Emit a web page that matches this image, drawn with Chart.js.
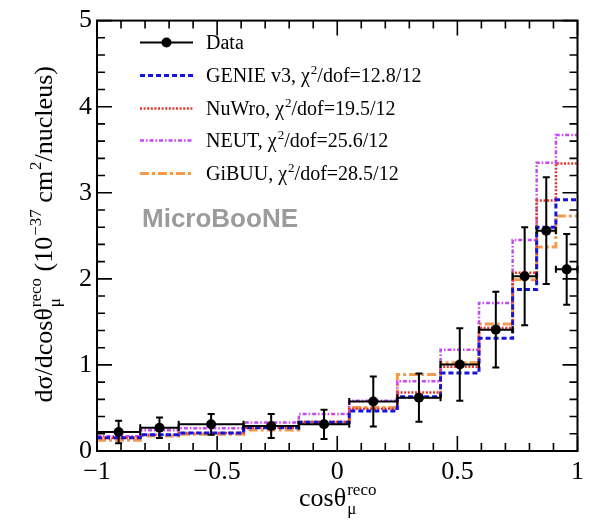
<!DOCTYPE html>
<html><head><meta charset="utf-8">
<style>html,body{margin:0;padding:0;background:#fff}</style>
<script src="https://cdn.jsdelivr.net/npm/chart.js@4.4.1/dist/chart.umd.min.js"></script>
</head><body>
<canvas id="c" width="590" height="527"></canvas>
<script>
// ---------------- data ----------------
const binEdges    = [-1, -0.82, -0.66, -0.39, -0.16, 0.05, 0.25, 0.43, 0.59, 0.73, 0.83, 0.91, 1];
const dataValues  = [0.22, 0.27, 0.31, 0.29, 0.31, 0.575, 0.62, 1.005, 1.41, 2.03, 2.56, 2.11];
const dataErrors  = [0.13, 0.12, 0.12, 0.14, 0.17, 0.29, 0.28, 0.42, 0.44, 0.57, 0.62, 0.41];
const genieValues = [0.155, 0.19, 0.21, 0.27, 0.335, 0.465, 0.63, 0.905, 1.31, 1.875, 2.60, 2.92];
const nuwroValues = [0.15, 0.19, 0.21, 0.27, 0.34, 0.49, 0.68, 0.98, 1.43, 2.07, 2.91, 3.34];
const neutValues  = [0.17, 0.24, 0.265, 0.33, 0.43, 0.585, 0.81, 1.175, 1.72, 2.45, 3.35, 3.67];
const gibuuValues = [0.125, 0.175, 0.195, 0.245, 0.33, 0.505, 0.89, 1.025, 1.475, 1.99, 2.37, 2.73];
const modelNames  = ['GENIE v3', 'NuWro', 'NEUT', 'GiBUU'];
const modelChi2   = ['12.8', '19.5', '25.6', '28.5'];
const ndof        = '12';
const xTickValues = [-1, -0.5, 0, 0.5, 1];
const xTickLabels = ['\u22121', '\u22120.5', '0', '0.5', '1'];
const yTickValues = [0, 1, 2, 3, 4, 5];
const yTickLabels = ['0', '1', '2', '3', '4', '5'];

// ---------------- styles ----------------
const SERIF = '"Liberation Serif", "Times New Roman", serif';
const modelStyles = [
  {color: '#1414dc', dash: [5, 3], width: 3},
  {color: '#e0362e', dash: [2, 1.6], width: 2.5},
  {color: '#c847f5', dash: [4, 2, 1.5, 2], width: 2.5},
  {color: '#f29b4e', dash: [9, 3, 3, 3], width: 3}
];
const modelValues = [genieValues, nuwroValues, neutValues, gibuuValues];

function stepPoints(vals) {
  const pts = vals.map((v, i) => ({x: binEdges[i], y: v}));
  pts.push({x: binEdges[binEdges.length - 1], y: vals[vals.length - 1]});
  return pts;
}
const centers = dataValues.map((v, i) => (binEdges[i] + binEdges[i + 1]) / 2);

const datasets = [{
  type: 'scatter', label: 'Data',
  data: dataValues.map((v, i) => ({x: centers[i], y: v})),
  pointRadius: 5, pointBackgroundColor: '#000', pointBorderColor: '#000', pointBorderWidth: 0,
  showLine: false
}];
modelValues.forEach((vals, k) => {
  datasets.push({
    type: 'line', label: modelNames[k], data: stepPoints(vals), stepped: 'before',
    borderColor: modelStyles[k].color, borderDash: modelStyles[k].dash, borderWidth: modelStyles[k].width,
    pointRadius: 0, fill: false, borderCapStyle: 'butt'
  });
});

// rich text helper
function richWidth(ctx, parts, size) {
  let w = 0;
  for (const p of parts) {
    if (p.s === 'n') { ctx.font = size + 'px ' + SERIF; w += ctx.measureText(p.t).width; }
    else if (p.s === 'sup') { ctx.font = Math.round(size * 0.65) + 'px ' + SERIF; w += ctx.measureText(p.t).width; }
    else { ctx.font = Math.round(size * 0.65) + 'px ' + SERIF; w += Math.max(ctx.measureText(p.sub).width, ctx.measureText(p.sup).width); }
  }
  return w;
}
function drawRich(ctx, parts, x, y, size, align) {
  const w = richWidth(ctx, parts, size);
  let cx = align === 'center' ? x - w / 2 : x;
  ctx.textAlign = 'left'; ctx.textBaseline = 'alphabetic';
  const small = Math.round(size * 0.65) + 'px ' + SERIF;
  for (const p of parts) {
    if (p.s === 'n') {
      ctx.font = size + 'px ' + SERIF; ctx.fillText(p.t, cx, y); cx += ctx.measureText(p.t).width;
    } else if (p.s === 'sup') {
      ctx.font = small; ctx.fillText(p.t, cx + 1, y - size * 0.42); cx += ctx.measureText(p.t).width + 1;
    } else {
      ctx.font = small;
      ctx.fillText(p.sup, cx + 1, y - size * 0.42);
      ctx.fillText(p.sub, cx + 1, y + size * 0.3);
      cx += Math.max(ctx.measureText(p.sub).width, ctx.measureText(p.sup).width) + 1;
    }
  }
}

const rootPlugin = {
  id: 'rootStyle',
  afterDatasetsDraw(chart) {
    const ctx = chart.ctx, xs = chart.scales.x, ys = chart.scales.y;
    ctx.save();
    ctx.strokeStyle = '#000'; ctx.lineWidth = 2; ctx.setLineDash([]);
    dataValues.forEach((v, i) => {
      const x0 = xs.getPixelForValue(binEdges[i]), x1 = xs.getPixelForValue(binEdges[i + 1]);
      const xc = xs.getPixelForValue(centers[i]);
      const yv = ys.getPixelForValue(v);
      const yt = ys.getPixelForValue(v + dataErrors[i]), yb = ys.getPixelForValue(v - dataErrors[i]);
      ctx.beginPath();
      ctx.moveTo(x0, yv); ctx.lineTo(x1, yv);
      ctx.moveTo(x0, yv - 3.5); ctx.lineTo(x0, yv + 3.5);
      ctx.moveTo(x1, yv - 3.5); ctx.lineTo(x1, yv + 3.5);
      ctx.moveTo(xc, yt); ctx.lineTo(xc, yb);
      ctx.moveTo(xc - 3.5, yt); ctx.lineTo(xc + 3.5, yt);
      ctx.moveTo(xc - 3.5, yb); ctx.lineTo(xc + 3.5, yb);
      ctx.stroke();
    });
    ctx.restore();
  },
  afterDraw(chart) {
    const ctx = chart.ctx, xs = chart.scales.x, ys = chart.scales.y, a = chart.chartArea;
    ctx.save();
    ctx.setLineDash([]);
    // frame
    ctx.strokeStyle = '#000'; ctx.lineWidth = 2;
    ctx.strokeRect(a.left, a.top, a.right - a.left, a.bottom - a.top);
    // ticks (inside, all four sides)
    ctx.lineWidth = 1.6;
    ctx.beginPath();
    for (let k = -10; k <= 10; k++) {
      const v = k / 10, px = xs.getPixelForValue(v);
      const L = (k % 5 === 0) ? 15 : 8;
      ctx.moveTo(px, a.bottom); ctx.lineTo(px, a.bottom - L);
      ctx.moveTo(px, a.top); ctx.lineTo(px, a.top + L);
    }
    for (let k = 0; k <= 25; k++) {
      const v = k / 5, py = ys.getPixelForValue(v);
      const L = (k % 5 === 0) ? 15 : 8;
      ctx.moveTo(a.left, py); ctx.lineTo(a.left + L, py);
      ctx.moveTo(a.right, py); ctx.lineTo(a.right - L, py);
    }
    ctx.stroke();

    // axis titles
    ctx.fillStyle = '#000';
    const xTitle = [{s: 'n', t: 'cos\u03b8'}, {s: 'ss', sub: '\u03bc', sup: 'reco'}];
    drawRich(ctx, xTitle, (a.left + a.right) / 2, 506, 26, 'center');
    const yTitle = [{s: 'n', t: 'd\u03c3/dcos\u03b8'}, {s: 'ss', sub: '\u03bc', sup: 'reco'},
      {s: 'n', t: ' (10'}, {s: 'sup', t: '\u221237'}, {s: 'n', t: ' cm'}, {s: 'sup', t: '2'}, {s: 'n', t: '/nucleus)'}];
    ctx.save();
    ctx.translate(52, (a.top + a.bottom) / 2);
    ctx.rotate(-Math.PI / 2);
    drawRich(ctx, yTitle, 0, 0, 26, 'center');
    ctx.restore();

    // legend
    const lx0 = 140, lx1 = 193, tx = 206;
    const base = [49, 82, 115, 147, 180];
    ctx.lineWidth = 2; ctx.strokeStyle = '#000';
    ctx.beginPath(); ctx.moveTo(lx0, base[0] - 6.5); ctx.lineTo(lx1, base[0] - 6.5); ctx.stroke();
    ctx.beginPath(); ctx.arc((lx0 + lx1) / 2, base[0] - 6.5, 5, 0, Math.PI * 2); ctx.fillStyle = '#000'; ctx.fill();
    drawRich(ctx, [{s: 'n', t: 'Data'}], tx, base[0], 20, 'left');
    modelNames.forEach((name, k) => {
      const st = modelStyles[k], y = base[k + 1] - 6.5;
      ctx.save();
      ctx.strokeStyle = st.color; ctx.lineWidth = st.width; ctx.setLineDash(st.dash);
      ctx.beginPath(); ctx.moveTo(lx0, y); ctx.lineTo(lx1, y); ctx.stroke();
      ctx.restore();
      ctx.fillStyle = '#000';
      drawRich(ctx, [{s: 'n', t: name + ', \u03c7'}, {s: 'sup', t: '2'}, {s: 'n', t: '/dof=' + modelChi2[k] + '/' + ndof}],
        tx, base[k + 1], 20, 'left');
    });

    // MicroBooNE label
    ctx.font = 'bold 26px "Liberation Sans", Arial, sans-serif';
    ctx.fillStyle = '#9b9b9b'; ctx.textAlign = 'left'; ctx.textBaseline = 'alphabetic';
    ctx.fillText('MicroBooNE', 142, 227);
    ctx.restore();
  }
};

new Chart(document.getElementById('c'), {
  type: 'line',
  data: {datasets},
  options: {
    responsive: false, animation: false, devicePixelRatio: 1,
    layout: {padding: {left: 0, right: 11, top: 14, bottom: 0}},
    plugins: {legend: {display: false}, tooltip: {enabled: false}},
    scales: {
      x: {
        type: 'linear', min: -1, max: 1,
        afterBuildTicks: s => { s.ticks = xTickValues.map(v => ({value: v})); },
        afterFit: s => { s.height = 76; },
        ticks: {
          callback: (v) => { const i = xTickValues.indexOf(v); return i >= 0 ? xTickLabels[i] : ''; },
          font: {family: SERIF, size: 26}, color: '#000', padding: 6, maxRotation: 0, autoSkip: false
        },
        grid: {display: false, drawTicks: false}, border: {display: false}
      },
      y: {
        type: 'linear', min: 0, max: 5,
        afterBuildTicks: s => { s.ticks = yTickValues.map(v => ({value: v})); },
        afterFit: s => { s.width = 97; },
        ticks: {
          callback: (v) => { const i = yTickValues.indexOf(v); return i >= 0 ? yTickLabels[i] : ''; },
          font: {family: SERIF, size: 26}, color: '#000', padding: 5
        },
        grid: {display: false, drawTicks: false}, border: {display: false}
      }
    }
  },
  plugins: [rootPlugin]
});
</script>
</body></html>
